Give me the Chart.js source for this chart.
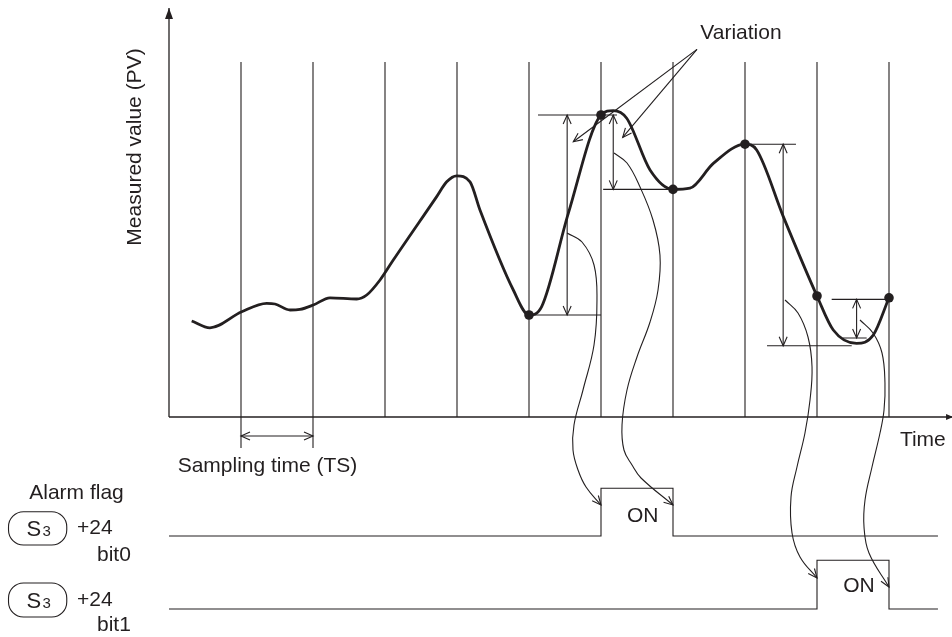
<!DOCTYPE html>
<html>
<head>
<meta charset="utf-8">
<title>Variation alarm</title>
<script src="https://cdn.jsdelivr.net/npm/chart.js@4.4.1/dist/chart.umd.min.js"></script>
<style>
  html, body { margin: 0; padding: 0; background: #fff; }
  #wrap { width: 952px; height: 637px; }
</style>
</head>
<body>
<div id="wrap"><canvas id="chart" width="952" height="637"></canvas></div>
<script>
// time in sampling periods (TS), value in PV units
const sampleTimes = [1, 2, 3, 4, 5, 6, 7, 8, 9, 10]
const gridTop = 88.75

const pvTimes = [0.315, 0.569, 1.01, 1.357, 1.472, 1.681, 1.819, 2.004, 2.236, 2.607, 2.746, 2.931, 3.115,
  3.718, 3.857, 3.996, 4.181, 4.319, 4.782, 5, 5.176, 5.546, 6, 6.171, 6.357, 6.681, 7, 7.236, 7.56,
  8, 8.162, 8.532, 9, 9.226, 9.55, 9.782, 10]
const pvValues = [24.0, 22.3, 26.3, 28.4, 28.25, 26.75, 26.9, 28.0, 29.8, 29.5, 30.5, 34.25, 39.25,
  55.1, 58.8, 60.3, 58.8, 51.75, 31.75, 25.5, 27.6, 50.9, 75.5, 76.6, 74.7, 61.75, 56.9, 57.2, 63.4,
  68.2, 66.75, 50.1, 30.25, 21.75, 18.4, 20.5, 29.8]

const sampledTimes = [5, 6, 7, 8, 9, 10]
const sampledValues = [25.5, 75.5, 56.9, 68.2, 30.25, 29.8]

// variation arrows
const variationTimes = [5.53, 6.17, 8.53, 9.55]
const variationTop = [75.5, 75.5, 68.2, 29.4]
const variationBottom = [25.5, 56.9, 17.8, 19.75]

// horizontal reference lines
const refLevels = [75.5, 25.5, 56.9, 68.2, 17.8, 29.4, 19.75]
const refFrom = [5.125, 5, 6.03, 8, 8.306, 9.204, 9.36]
const refTo = [6.222, 6, 7, 8.708, 9.482, 10, 9.69]

// "Variation" leader lines
const leaderApex = [7.333, 91.9]
const leaderEnds = [[5.615, 68.8], [6.301, 69.9]]

// sampling time marker
const spanTimes = [1, 2]
const spanTickBottom = -7.75
const spanArrowLevel = -4.75

// curved trigger arrows from the variations to the flag edges
const triggerPaths = [
  [[5.528, 46], [5.736, 43.75], [5.903, 38], [5.944, 29.25], [5.903, 18], [5.75, 6.75], [5.625, -2],
    [5.611, -8.25], [5.681, -13.25], [5.792, -17.5], [6.0, -22]],
  [[6.181, 66], [6.361, 63.5], [6.542, 57.5], [6.722, 49.25], [6.819, 40.5], [6.792, 31.75], [6.681, 23.75],
    [6.5, 15], [6.361, 6.75], [6.292, -2], [6.319, -8.25], [6.431, -12], [6.556, -15.25], [7.0, -22]],
  [[8.556, 29.25], [8.736, 26], [8.875, 20], [8.931, 12.5], [8.903, 4.25], [8.833, -4], [8.722, -12.5],
    [8.639, -20], [8.653, -29], [8.764, -35], [9.0, -40.25]],
  [[9.597, 24.25], [9.778, 21], [9.903, 16], [9.944, 8.5], [9.931, 1.75], [9.875, -4], [9.764, -12.5],
    [9.667, -20.75], [9.653, -27.5], [9.722, -34], [10.0, -42.5]]
]

// alarm flags (stepped)
const flagTimes0 = [0, 6, 7, 10.68]
const flagStates0 = [0, 1, 0, 0]
const flagTimes1 = [0, 9, 10, 10.68]
const flagStates1 = [0, 1, 0, 0]
const flagLow = [-29.75, -48]
const flagHigh = [-17.8, -35.8]

const ink = '#231f20'
const fontFace = '"Liberation Sans", Arial, Helvetica, sans-serif'

function line(points, extra) {
  return Object.assign({
    data: points,
    showLine: true,
    borderColor: ink,
    borderWidth: 1.1,
    pointRadius: 0,
    tension: 0
  }, extra || {})
}

function segments(list) {
  // list of [[x1,y1],[x2,y2]] -> points with gaps
  const out = []
  list.forEach(s => {
    out.push({ x: s[0][0], y: s[0][1] }, { x: s[1][0], y: s[1][1] }, { x: s[1][0], y: null })
  })
  return out
}

const datasets = []
datasets.push(line(segments(sampleTimes.map(t => [[t, 0], [t, gridTop]]))))
datasets.push(line(segments(spanTimes.map(t => [[t, 0], [t, spanTickBottom]]))))
datasets.push(line([{ x: 0, y: 0 }, { x: 0, y: 102.25 }], { arrow: 'filled', borderWidth: 1.3 }))
datasets.push(line([{ x: 0, y: 0 }, { x: 10.89, y: 0 }], { arrow: 'filledSmall', borderWidth: 1.3 }))
datasets.push(line(segments(refLevels.map((v, i) => [[refFrom[i], v], [refTo[i], v]]))))
variationTimes.forEach((t, i) => {
  datasets.push(line([{ x: t, y: variationBottom[i] }, { x: t, y: variationTop[i] }], { arrow: 'both' }))
})
leaderEnds.forEach(p => {
  datasets.push(line([{ x: leaderApex[0], y: leaderApex[1] }, { x: p[0], y: p[1] }], { arrow: 'end' }))
})
datasets.push(line(spanTimes.map(t => ({ x: t, y: spanArrowLevel })), { arrow: 'both' }))
triggerPaths.forEach(path => {
  datasets.push(line(path.map(p => ({ x: p[0], y: p[1] })), { arrow: 'end', tension: 0.4 }))
})
datasets.push(line(flagTimes0.map((t, i) => ({ x: t, y: flagStates0[i] ? flagHigh[0] : flagLow[0] })), { stepped: 'before' }))
datasets.push(line(flagTimes1.map((t, i) => ({ x: t, y: flagStates1[i] ? flagHigh[1] : flagLow[1] })), { stepped: 'before' }))
datasets.push(line(pvTimes.map((t, i) => ({ x: t, y: pvValues[i] })), { borderWidth: 2.8, cubicInterpolationMode: 'monotone' }))
datasets.push({
  data: sampledTimes.map((t, i) => ({ x: t, y: sampledValues[i] })),
  showLine: false,
  pointRadius: 4.8,
  pointBackgroundColor: ink,
  pointBorderWidth: 0
})

const notes = [
  { text: 'Variation', t: 7.944, v: 96 },
  { text: 'Time', t: 10.47, v: -5.75 },
  { text: 'Sampling time (TS)', t: 1.368, v: -12.4 },
  { text: 'Alarm flag', t: -1.285, v: -19 },
  { text: 'ON', t: 6.58, v: -24.75 },
  { text: 'ON', t: 9.583, v: -42.25 },
  { text: '+24', t: -1.278, v: -27.75, align: 'left' },
  { text: 'bit0', t: -1.0, v: -34.6, align: 'left' },
  { text: '+24', t: -1.278, v: -45.75, align: 'left' },
  { text: 'bit1', t: -1.0, v: -52, align: 'left' }
]
const flagBoxes = [[-2.229, -1.42, -23.7, -32], [-2.229, -1.42, -41.5, -50]]

function head(ctx, x, y, fx, fy, len, half, filled) {
  const a = Math.atan2(y - fy, x - fx)
  const bx = x - len * Math.cos(a), by = y - len * Math.sin(a)
  const ox = -Math.sin(a) * half, oy = Math.cos(a) * half
  ctx.beginPath()
  ctx.moveTo(bx + ox, by + oy)
  ctx.lineTo(x, y)
  ctx.lineTo(bx - ox, by - oy)
  if (filled) { ctx.closePath(); ctx.fill() } else ctx.stroke()
}

const decorPlugin = {
  id: 'decor',
  afterDatasetsDraw(chart) {
    const ctx = chart.ctx
    const xs = chart.scales.x, ys = chart.scales.y
    ctx.save()
    ctx.strokeStyle = ink
    ctx.fillStyle = ink
    ctx.lineWidth = 1.1
    chart.data.datasets.forEach((ds, i) => {
      if (!ds.arrow) return
      const pts = chart.getDatasetMeta(i).data
      const n = pts.length
      if (ds.arrow === 'filled') {
        head(ctx, pts[n - 1].x, pts[n - 1].y, pts[n - 2].x, pts[n - 2].y, 11, 4, true)
      } else if (ds.arrow === 'filledSmall') {
        head(ctx, pts[n - 1].x, pts[n - 1].y, pts[n - 2].x, pts[n - 2].y, 7, 3, true)
      } else {
        head(ctx, pts[n - 1].x, pts[n - 1].y, pts[n - 2].x, pts[n - 2].y, 9, 4, false)
        if (ds.arrow === 'both') head(ctx, pts[0].x, pts[0].y, pts[1].x, pts[1].y, 9, 4, false)
      }
    })

    ctx.font = '21px ' + fontFace
    ctx.textBaseline = 'middle'
    notes.forEach(n => {
      ctx.textAlign = n.align || 'center'
      ctx.fillText(n.text, xs.getPixelForValue(n.t), ys.getPixelForValue(n.v))
    })

    // y axis title
    ctx.save()
    ctx.translate(xs.getPixelForValue(-0.472), ys.getPixelForValue(67.5))
    ctx.rotate(-Math.PI / 2)
    ctx.textAlign = 'center'
    ctx.fillText('Measured value (PV)', 0, 0)
    ctx.restore()

    // S3 boxes
    flagBoxes.forEach(b => {
      const x1 = xs.getPixelForValue(b[0]), x2 = xs.getPixelForValue(b[1])
      const y1 = ys.getPixelForValue(b[2]), y2 = ys.getPixelForValue(b[3])
      ctx.beginPath()
      ctx.roundRect(x1, y1, x2 - x1, y2 - y1, 15)
      ctx.stroke()
      const cy = (y1 + y2) / 2
      ctx.textAlign = 'left'
      ctx.textBaseline = 'alphabetic'
      ctx.font = '22px ' + fontFace
      ctx.fillText('S', x1 + 18, cy + 8)
      ctx.font = '15px ' + fontFace
      ctx.fillText('3', x1 + 34, cy + 8)
      ctx.font = '21px ' + fontFace
      ctx.textBaseline = 'middle'
    })
    ctx.restore()
  }
}

new Chart(document.getElementById('chart').getContext('2d'), {
  type: 'scatter',
  data: { datasets: datasets },
  options: {
    responsive: false,
    animation: false,
    events: [],
    layout: { padding: 0, autoPadding: false },
    spanGaps: false,
    plugins: { legend: { display: false }, tooltip: { enabled: false } },
    scales: {
      x: { type: 'linear', display: false, min: -169 / 72, max: (952 - 169) / 72 },
      y: { type: 'linear', display: false, min: -(637 - 417) / 4, max: 417 / 4 }
    }
  },
  plugins: [decorPlugin]
})
</script>
</body>
</html>
